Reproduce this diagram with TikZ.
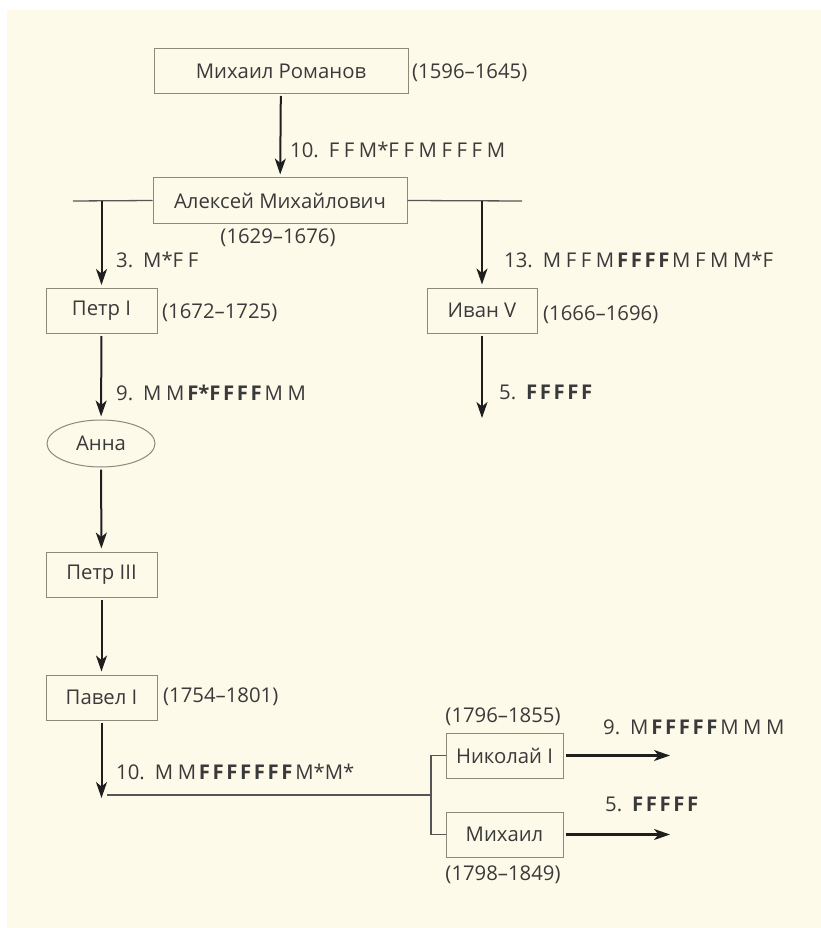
\documentclass[tikz,border=0pt]{standalone}
\usepackage{fontspec}
\setmainfont{Open Sans}
\usetikzlibrary{arrows.meta,shapes.geometric}
\definecolor{bgc}{HTML}{FEFAEA}
\definecolor{txt}{HTML}{3A3A3A}
\definecolor{boxc}{HTML}{8C887C}
\definecolor{lnc}{HTML}{555555}
\newcommand{\gapn}{\hspace{10pt}}
\newcommand{\B}[1]{{\bfseries\spaceskip=2.6pt\relax #1}}
\newcommand{\bg}{\hspace{2.8pt}}
\newcommand{\fsz}{\fontsize{20.3}{23}\selectfont}
\tikzset{
  box/.style={draw=boxc, line width=1pt, minimum height=45pt, inner sep=0pt, text=txt, font=\fsz},
  oval/.style={box, ellipse, minimum width=108pt, minimum height=47pt},
  lbl/.style={anchor=west, inner sep=0pt, text=txt, font=\fsz},
  seq/.style={lbl, font={\fsz\spaceskip=4.6pt\relax}},
  clbl/.style={lbl, anchor=center},
  arr/.style={-{Stealth[length=16pt,width=11pt,inset=4.5pt]}, line width=2pt, draw=black!88, shorten >=3pt, shorten <=2pt},
  ln/.style={line width=1.3pt, draw=lnc}
}
\begin{document}
\begin{tikzpicture}[x=1pt,y=-1pt]
\useasboundingbox (0,0) rectangle (821,928);
\fill[bgc] (7,10) rectangle (821,928);

% boxes
\node[box, minimum width=254pt] (m1) at (281,71) {Михаил Романов};
\node[box, minimum width=254pt] (m2) at (280,200.5) {Алексей Михайлович};
\node[box, minimum width=111pt] (p1) at (101.5,311) {Петр I};
\node[oval] (an) at (101,443.5) {Анна};
\node[box, minimum width=111pt] (p3) at (101.5,574.5) {Петр III};
\node[box, minimum width=111pt] (pv) at (101.5,697.5) {Павел I};
\node[box, minimum width=110pt] (iv) at (482,310.5) {Иван V};
\node[box, minimum width=117pt] (nk) at (504.5,755.5) {Николай I};
\node[box, minimum width=117pt] (mk) at (504.5,834.5) {Михаил};

% coordinates
\coordinate (hl) at (73,201);
\coordinate (hr) at (522,201);
\coordinate (la) at (101.5,201);
\coordinate (ra) at (482,201);
\coordinate (iend) at (482,421);
\coordinate (pend) at (101.5,798);
\coordinate (hb) at (107,795);
\coordinate (fork) at (431,795);
\coordinate (nend) at (670,755.5);
\coordinate (mend) at (670,834.5);

% lines
\draw[ln] (m2.west) -- (hl);
\draw[ln] (m2.east) -- (hr);
\draw[ln] (hb) -- (fork);
\draw[ln] (nk.west) -| (fork) |- (mk.west);

% arrows
\draw[arr] (m1) -- (m2);
\draw[arr, shorten <=0pt] (la) -- (p1);
\draw[arr, shorten <=0pt] (ra) -- (iv);
\draw[arr] (iv) -- (iend);
\draw[arr] (p1) -- (an);
\draw[arr] (an) -- (p3);
\draw[arr] (p3) -- (pv);
\draw[arr, shorten >=0pt] (pv) -- (pend);
\draw[arr, line width=2.4pt, shorten >=0pt] (nk) -- (nend);
\draw[arr, line width=2.4pt, shorten >=0pt] (mk) -- (mend);

% labels
\node[lbl] (d1) at (412,73) {(1596–1645)};
\node[seq] (s1) at (290,150) {10.\gapn F F M*F F M F F F M};
\node[clbl] (d2) at (278,238) {(1629–1676)};
\node[seq] (s2) at (116,260) {3.\gapn M*F F};
\node[lbl] (d3) at (162,313) {(1672–1725)};
\node[seq] (s3) at (116,393) {9.\gapn M M\bg\B{F*F F F F}\bg M M};
\node[seq] (s4) at (504,260) {13.\gapn M F F M\bg\B{F F F F}\bg M F M M*F};
\node[lbl] (d4) at (543,315) {(1666–1696)};
\node[seq] (s5) at (499,392) {5.\gapn \B{F F F F F}};
\node[lbl] (d5) at (163,697) {(1754–1801)};
\node[seq] (s6) at (116,772) {10.\gapn M M\bg\B{F F F F F F F}\bg M*M*};
\node[clbl] (d6) at (503,717) {(1796–1855)};
\node[seq] (s7) at (603,727) {9.\gapn M\bg\B{F F F F F}\bg M M M};
\node[seq] (s8) at (605,804) {5.\gapn \B{F F F F F}};
\node[clbl] (d7) at (503,875) {(1798–1849)};
\end{tikzpicture}
\end{document}
